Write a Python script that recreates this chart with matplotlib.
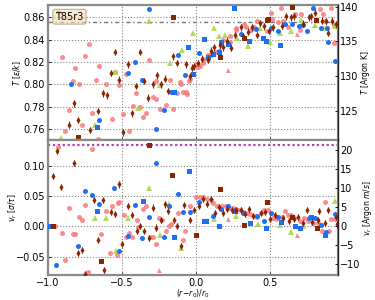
import numpy as np
import matplotlib.pyplot as plt

# ---- data: (x, value) pairs ----
# top panel: temperature T [eps/k]
T_salmon = [(-0.932, 0.8645), (-0.723, 0.836), (-0.905, 0.824), (-0.748, 0.825), (-0.815, 0.815),
            (-0.655, 0.816), (-0.55, 0.811), (-0.83, 0.803), (-0.79, 0.800), (-0.678, 0.804),
            (-0.61, 0.800), (-0.86, 0.777), (-0.70, 0.774), (-0.566, 0.769), (-0.768, 0.764),
            (-0.883, 0.758), (-0.665, 0.751), (-0.315, 0.822), (-0.473, 0.809), (-0.045, 0.803),
            (-0.178, 0.804), (-0.27, 0.803), (-0.111, 0.802), (-0.10, 0.800), (-0.518, 0.799),
            (-0.13, 0.792), (-0.086, 0.793), (-0.063, 0.791), (-0.405, 0.792), (-0.293, 0.789),
            (-0.27, 0.787), (-0.428, 0.781), (-0.38, 0.780), (-0.20, 0.7815), (-0.245, 0.778),
            (-0.155, 0.778), (-0.495, 0.7735), (-0.338, 0.7745), (-0.36, 0.7705), (-0.45, 0.7585),
            (-0.068, 0.793), (-0.04, 0.805), (0.0, 0.818), (0.01, 0.8158), (0.027, 0.816),
            (0.05, 0.819), (0.056, 0.8224), (0.08, 0.826), (0.10, 0.826), (0.137, 0.829),
            (0.158, 0.830), (0.185, 0.8397), (0.23, 0.838), (0.232, 0.843), (0.27, 0.8487),
            (0.27, 0.850), (0.322, 0.854), (0.34, 0.8515), (0.37, 0.849), (0.39, 0.851),
            (0.412, 0.857), (0.48, 0.848), (0.505, 0.8636), (0.51, 0.8587), (0.553, 0.8555),
            (0.572, 0.868), (0.59, 0.857), (0.62, 0.8513), (0.668, 0.863), (0.70, 0.8484),
            (0.711, 0.8627), (0.84, 0.867), (0.86, 0.863), (0.871, 0.857), (0.914, 0.868),
            (0.93, 0.8533), (0.93, 0.837)]
T_salmon_tri = [(0.216, 0.813), (0.684, 0.845)]
T_diamond = [(-0.547, 0.829), (-0.574, 0.810), (-0.518, 0.804), (-0.63, 0.792), (-0.601, 0.790),
             (-0.826, 0.783), (-0.66, 0.776), (-0.80, 0.768), (-0.856, 0.764), (-0.714, 0.759),
             (-0.378, 0.829), (-0.153, 0.825), (-0.126, 0.819), (-0.07, 0.818), (-0.462, 0.818),
             (-0.266, 0.808), (-0.043, 0.807), (-0.209, 0.805), (-0.35, 0.803), (-0.239, 0.800),
             (-0.293, 0.800), (-0.403, 0.7985), (-0.19, 0.794), (-0.322, 0.788), (-0.434, 0.774),
             (-0.493, 0.757), (-0.025, 0.815), (-0.012, 0.816), (0.015, 0.819), (0.04, 0.823),
             (0.082, 0.822), (0.099, 0.830), (0.12, 0.833), (0.16, 0.835), (0.185, 0.833),
             (0.212, 0.839), (0.239, 0.8328), (0.26, 0.844), (0.30, 0.851), (0.32, 0.843),
             (0.35, 0.847), (0.38, 0.851), (0.41, 0.844), (0.435, 0.855), (0.46, 0.852),
             (0.494, 0.8477), (0.52, 0.851), (0.58, 0.8525), (0.61, 0.861), (0.64, 0.860),
             (0.664, 0.861), (0.72, 0.8543), (0.76, 0.860), (0.776, 0.861), (0.80, 0.864),
             (0.85, 0.857), (0.878, 0.8565), (0.89, 0.846), (0.915, 0.857), (0.946, 0.8537)]
T_blue_circ = [(-0.845, 0.800), (-0.653, 0.768), (-0.318, 0.867), (-0.124, 0.826), (-0.412, 0.820),
               (-0.459, 0.810), (-0.074, 0.808), (-0.365, 0.804), (-0.171, 0.793), (-0.22, 0.777),
               (-0.268, 0.760), (0.022, 0.828), (0.306, 0.845), (0.403, 0.8495), (0.503, 0.850),
               (0.555, 0.848), (0.60, 0.854), (0.65, 0.8537), (0.693, 0.852), (0.72, 0.853),
               (0.747, 0.848), (0.79, 0.868), (0.844, 0.8504), (0.883, 0.8504), (0.89, 0.838),
               (0.935, 0.821)]
T_blue_sq = [(-0.669, 0.762), (-0.15, 0.793), (-0.052, 0.833), (-0.022, 0.8095), (0.052, 0.8406),
             (0.078, 0.8245), (0.115, 0.827), (0.155, 0.829), (0.17, 0.838), (0.215, 0.836),
             (0.257, 0.8686), (0.36, 0.839), (0.453, 0.8415), (0.47, 0.839), (0.566, 0.835)]
T_brown_sq = [(-0.80, 0.753), (-0.157, 0.8605), (0.164, 0.824), (0.324, 0.841), (0.477, 0.858),
              (0.484, 0.8585), (0.647, 0.8695), (0.81, 0.858)]
T_green = [(-0.91, 0.752), (-0.68, 0.764), (-0.55, 0.811), (-0.39, 0.779), (-0.318, 0.857),
           (-0.245, 0.799), (-0.174, 0.819), (-0.097, 0.831), (-0.022, 0.846), (0.124, 0.8507),
           (0.153, 0.843), (0.198, 0.844), (0.277, 0.841), (0.35, 0.8346), (0.43, 0.850),
           (0.497, 0.8376), (0.57, 0.8457), (0.644, 0.848), (0.71, 0.858), (0.80, 0.853),
           (0.867, 0.8504), (0.94, 0.852)]
T_level = 0.8555

# bottom panel: radial velocity v_r [sigma/tau]
v_salmon = [(-0.932, 0.131), (-0.70, 0.128), (-0.748, 0.035), (-0.53, 0.039), (-0.565, 0.034),
            (-0.86, 0.030), (-0.61, 0.026), (-0.79, 0.016), (-0.77, 0.011), (-0.95, 0.0),
            (-0.905, -0.0105), (-0.83, -0.012), (-0.815, -0.013), (-0.64, -0.013), (-0.58, -0.044),
            (-0.535, -0.048), (-0.883, -0.056), (-0.73, -0.075), (-0.52, 0.040), (-0.34, 0.034),
            (-0.36, 0.028), (-0.12, 0.022), (-0.04, 0.033), (-0.49, 0.018), (-0.40, 0.011),
            (-0.25, 0.013), (-0.23, 0.010), (-0.20, -0.007), (-0.17, 0.003), (-0.185, 0.001),
            (-0.076, -0.008), (-0.39, -0.001), (-0.45, -0.011), (-0.47, -0.018), (-0.43, -0.018),
            (-0.31, -0.017), (-0.29, -0.018), (-0.09, -0.022), (-0.27, -0.030),
            (-0.003, 0.048), (0.024, 0.048), (0.049, 0.048), (0.072, 0.0455), (0.099, 0.0434),
            (0.117, 0.0384), (0.144, 0.034), (0.173, 0.034), (0.199, 0.034), (0.224, 0.0307),
            (0.248, 0.030), (0.271, 0.0285), (0.293, 0.027), (0.318, 0.024), (0.341, 0.022),
            (0.366, 0.020), (0.388, 0.0175), (0.413, 0.016), (0.438, 0.0215), (0.461, 0.027),
            (0.485, 0.027), (0.52, 0.0137), (0.54, 0.0126), (0.577, 0.016), (0.60, 0.0247),
            (0.62, 0.018), (0.64, 0.018), (0.66, 0.0137), (0.70, 0.008), (0.73, 0.0137),
            (0.756, 0.008), (0.79, 0.005), (0.82, 0.005), (0.85, -0.008), (0.87, 0.040),
            (0.90, -0.008), (0.91, 0.012), (0.935, 0.012)]
v_salmon_tri = [(-0.248, -0.072), (0.216, 0.012), (0.68, -0.015)]
v_diamond = [(-0.941, 0.125), (-0.826, 0.105), (-0.968, 0.0835), (-0.912, 0.065), (-0.687, 0.043),
             (-0.63, 0.043), (-0.575, 0.024), (-0.55, 0.021), (-0.66, -0.0226), (-0.77, -0.039),
             (-0.80, -0.044), (-0.62, -0.072), (-0.75, -0.079), (-0.518, 0.069), (-0.46, 0.033),
             (-0.293, 0.031), (-0.21, 0.036), (-0.19, 0.026), (-0.08, 0.035), (-0.43, 0.0185),
             (-0.24, 0.010), (-0.15, 0.011), (-0.04, 0.011), (-0.128, 0.0), (-0.38, 0.0),
             (-0.27, -0.002), (-0.40, -0.008), (-0.35, -0.007), (-0.32, -0.020), (-0.50, -0.029),
             (-0.105, -0.033), (-0.014, 0.0274), (0.018, 0.0335), (0.049, 0.045), (0.075, 0.0363),
             (0.099, 0.045), (0.126, 0.022), (0.156, 0.032), (0.183, 0.022), (0.212, 0.0285),
             (0.241, 0.0274), (0.271, 0.027), (0.30, 0.027), (0.329, 0.021), (0.354, 0.028),
             (0.383, 0.0175), (0.438, 0.0224), (0.467, 0.024), (0.50, 0.012), (0.53, 0.018),
             (0.585, 0.014), (0.63, 0.008), (0.66, 0.012), (0.69, 0.016), (0.72, 0.005),
             (0.75, 0.027), (0.78, 0.007), (0.82, 0.010), (0.833, 0.026), (0.87, 0.006),
             (0.89, 0.027), (0.944, 0.016), (0.95, 0.003)]
v_blue_circ = [(-0.944, -0.064), (-0.80, -0.032), (-0.75, 0.059), (-0.70, 0.051), (-0.655, 0.037),
               (-0.556, 0.063), (-0.52, -0.041), (-0.46, -0.016), (-0.41, 0.035), (-0.365, -0.020),
               (-0.32, 0.016), (-0.268, 0.104), (-0.22, -0.018), (-0.18, 0.033), (-0.124, 0.054),
               (-0.085, 0.023), (-0.04, 0.024), (0.02, 0.0406), (0.117, 0.0175), (0.167, 0.028),
               (0.217, 0.033), (0.26, 0.0274), (0.314, 0.022), (0.41, 0.0175), (0.456, 0.0087),
               (0.503, 0.022), (0.555, 0.015), (0.76, 0.0137), (0.80, 0.0137), (0.844, 0.0026),
               (0.88, -0.009), (0.935, 0.020)]
v_blue_sq = [(-0.993, 0.0), (-0.669, 0.025), (-0.36, 0.042), (-0.15, -0.018), (-0.049, 0.091),
             (0.054, 0.009), (0.07, 0.008), (0.158, 0.0), (0.264, 0.025), (0.363, 0.0055),
             (0.47, -0.003), (0.571, 0.0066), (0.668, 0.0), (0.70, -0.002), (0.776, 0.016),
             (0.87, -0.015)]
v_brown_sq = [(-0.965, 0.0), (-0.64, -0.058), (-0.318, 0.134), (-0.16, 0.085), (0.0, -0.015),
              (0.164, 0.0615), (0.324, 0.002), (0.482, 0.040), (0.646, 0.0148), (0.815, -0.003)]
v_green = [(-0.68, 0.013), (-0.61, 0.013), (-0.54, -0.040), (-0.46, 0.013), (-0.318, 0.064),
           (-0.245, -0.014), (-0.18, 0.037), (-0.105, -0.035), (0.124, 0.012), (0.27, 0.0175),
           (0.42, 0.004), (0.566, 0.0016), (0.64, -0.010), (0.72, 0.0), (0.937, 0.042)]
v_level = 0.1347

T_err = 0.003
v_err = 0.005
T_to_K = 161.0
v_to_ms = 159.5

salmon = '#f77a7a'
blue = '#1f6ff2'
brown = '#8b2500'
green = '#a8d84a'


def xy(pts):
    x, y = zip(*pts)
    return np.array(x), np.array(y)


def draw_panel(ax, salmon_pts, tri_pts, diam_pts, bc_pts, bs_pts, brs_pts, gr_pts, err):
    x, y = xy(salmon_pts)
    ax.plot(x, y, 'o', color=salmon, ms=3.6, mew=0, alpha=0.85, zorder=2)
    x, y = xy(tri_pts)
    ax.plot(x, y, '^', color=salmon, ms=3.6, mew=0, alpha=0.85, zorder=2)
    x, y = xy(gr_pts)
    ax.plot(x, y, '^', color=green, ms=3.8, mew=0, alpha=0.9, zorder=3)
    x, y = xy(bc_pts)
    ax.plot(x, y, 'o', color=blue, ms=3.6, mew=0, zorder=3)
    x, y = xy(bs_pts)
    ax.plot(x, y, 's', color=blue, ms=3.6, mew=0, zorder=3)
    x, y = xy(brs_pts)
    ax.plot(x, y, 's', color=brown, ms=3.6, mew=0, zorder=3)
    x, y = xy(diam_pts)
    ax.errorbar(x, y, yerr=err, fmt='d', color=brown, ms=3.4, mew=0,
                elinewidth=0.8, capsize=0, zorder=4)


def style(ax):
    for s in ax.spines.values():
        s.set_color('#8a8a8a')
        s.set_linewidth(1.6)
    ax.grid(True, color='#888888', linestyle=':', linewidth=0.8)
    ax.tick_params(labelsize=7, length=2, width=0.6, direction='in', pad=2)
    ax.set_xlim(-1.0, 0.955)
    ax.set_xticks([-1.0, -0.5, 0.0, 0.5])


fig = plt.figure(figsize=(3.75, 3.0), dpi=100)
ax1 = fig.add_axes([0.128, 0.5317, 0.772, 0.4517])
ax2 = fig.add_axes([0.128, 0.0833, 0.772, 0.4484])

draw_panel(ax1, T_salmon, T_salmon_tri, T_diamond, T_blue_circ, T_blue_sq, T_brown_sq, T_green, T_err)
draw_panel(ax2, v_salmon, v_salmon_tri, v_diamond, v_blue_circ, v_blue_sq, v_brown_sq, v_green, v_err)

ax1.axhline(T_level, color='#777777', lw=1.0, ls=(0, (3, 2, 1, 2)), zorder=1)
ax2.axhline(v_level, color='#b040b0', lw=1.6, ls=(0, (1, 1.2)), zorder=1)

style(ax1)
style(ax2)
ax1.set_ylim(0.7497, 0.871)
ax1.set_yticks([0.76, 0.78, 0.80, 0.82, 0.84, 0.86])
ax1.tick_params(labelbottom=False)
ax2.set_ylim(-0.0804, 0.1416)
ax2.set_yticks([-0.05, 0.0, 0.05, 0.10])

ax1.set_ylabel(r'$T\ [\epsilon/k]$', fontsize=5.5)
ax1.yaxis.set_label_coords(-0.086, 0.5)
ax2.set_ylabel(r'$v_r\ [\sigma/\tau]$', fontsize=5.5)
ax2.yaxis.set_label_coords(-0.10, 0.5)
ax2.set_xlabel(r'$(r\!-\!r_0)/r_0$', fontsize=5.5)
ax2.xaxis.set_label_coords(0.5, -0.095)

ax1r = ax1.twinx()
ax1r.set_ylim(0.7497 * T_to_K, 0.871 * T_to_K)
ax1r.set_yticks([125, 130, 135, 140])
ax1r.set_ylabel(r'$T\ [\mathrm{Argon\ K}]$', fontsize=5.5)
ax1r.yaxis.set_label_coords(1.075, 0.5)
ax2r = ax2.twinx()
ax2r.set_ylim(-0.0804 * v_to_ms, 0.1416 * v_to_ms)
ax2r.set_yticks([-10, -5, 0, 5, 10, 15, 20])
ax2r.set_ylabel(r'$v_r\ [\mathrm{Argon}\ m/s]$', fontsize=5.5)
ax2r.yaxis.set_label_coords(1.08, 0.5)
for axr in (ax1r, ax2r):
    for name, s in axr.spines.items():
        s.set_visible(name == 'right')
    axr.spines['right'].set_color('#222222')
    axr.spines['right'].set_linewidth(0.9)
    axr.tick_params(labelsize=7, length=2, width=0.6, direction='in', pad=2)

ax1.text(0.025, 0.95, 'T85r3', transform=ax1.transAxes, fontsize=7, va='top', ha='left',
         bbox=dict(boxstyle='round,pad=0.25', facecolor='#f5deb3', edgecolor='#a08060',
                   alpha=0.6, linewidth=0.8), zorder=10)

fig.savefig('out.png', dpi=100)
